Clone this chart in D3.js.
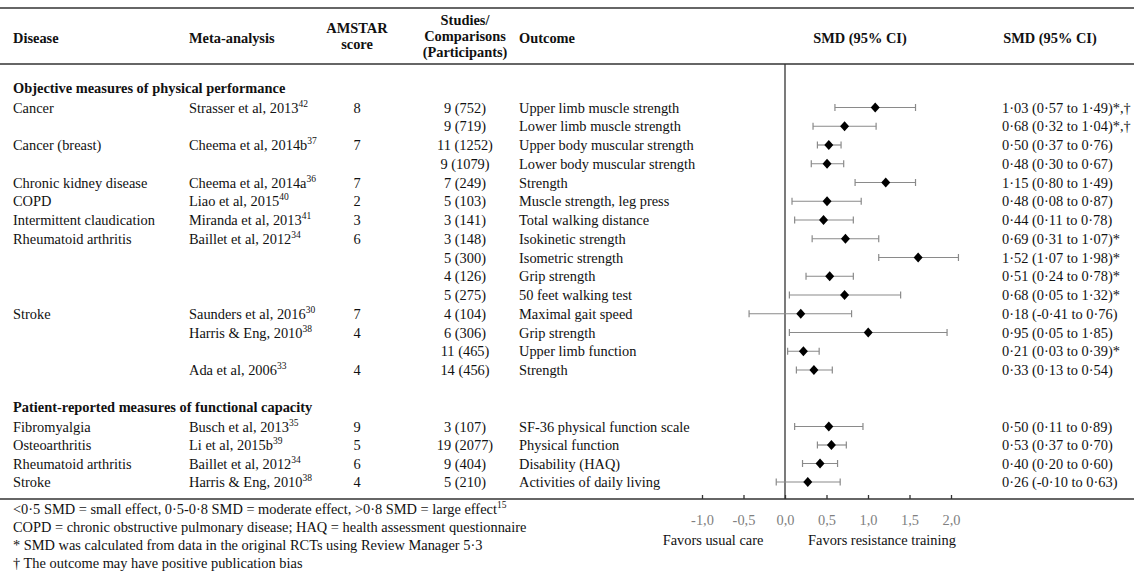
<!DOCTYPE html>
<html><head><meta charset="utf-8">
<script src="https://cdn.jsdelivr.net/npm/d3@7"></script>
<style>
html,body{margin:0;padding:0;background:#fff;}
svg{display:block;font-family:"Liberation Serif","Times New Roman",serif;}
</style></head>
<body><svg id="c" width="1134" height="572"></svg>
<script>
// ---------- Data ----------
const section1Title = "Objective measures of physical performance";
const section2Title = "Patient-reported measures of functional capacity";

const disease1 = ["Cancer","","Cancer (breast)","","Chronic kidney disease","COPD","Intermittent claudication","Rheumatoid arthritis","","","","Stroke","","",""];
const meta1 = ["Strasser et al, 2013","","Cheema et al, 2014b","","Cheema et al, 2014a","Liao et al, 2015","Miranda et al, 2013","Baillet et al, 2012","","","","Saunders et al, 2016","Harris & Eng, 2010","","Ada et al, 2006"];
const ref1 = ["42","","37","","36","40","41","34","","","","30","38","","33"];
const amstar1 = ["8","","7","","7","2","3","6","","","","7","4","","4"];
const studies1 = ["9 (752)","9 (719)","11 (1252)","9 (1079)","7 (249)","5 (103)","3 (141)","3 (148)","5 (300)","4 (126)","5 (275)","4 (104)","6 (306)","11 (465)","14 (456)"];
const outcome1 = ["Upper limb muscle strength","Lower limb muscle strength","Upper body muscular strength","Lower body muscular strength","Strength","Muscle strength, leg press","Total walking distance","Isokinetic strength","Isometric strength","Grip strength","50 feet walking test","Maximal gait speed","Grip strength","Upper limb function","Strength"];
const smdLabel1 = ["1·03 (0·57 to 1·49)*,†","0·68 (0·32 to 1·04)*,†","0·50 (0·37 to 0·76)","0·48 (0·30 to 0·67)","1·15 (0·80 to 1·49)","0·48 (0·08 to 0·87)","0·44 (0·11 to 0·78)","0·69 (0·31 to 1·07)*","1·52 (1·07 to 1·98)*","0·51 (0·24 to 0·78)*","0·68 (0·05 to 1·32)*","0·18 (-0·41 to 0·76)","0·95 (0·05 to 1·85)","0·21 (0·03 to 0·39)*","0·33 (0·13 to 0·54)"];
const smd1 = [1.03,0.68,0.50,0.48,1.15,0.48,0.44,0.69,1.52,0.51,0.68,0.18,0.95,0.21,0.33];
const lo1  = [0.57,0.32,0.37,0.30,0.80,0.08,0.11,0.31,1.07,0.24,0.05,-0.41,0.05,0.03,0.13];
const hi1  = [1.49,1.04,0.64,0.67,1.49,0.87,0.78,1.07,1.98,0.78,1.32,0.76,1.85,0.39,0.54];

const disease2 = ["Fibromyalgia","Osteoarthritis","Rheumatoid arthritis","Stroke"];
const meta2 = ["Busch et al, 2013","Li et al, 2015b","Baillet et al, 2012","Harris & Eng, 2010"];
const ref2 = ["35","39","34","38"];
const amstar2 = ["9","5","6","4"];
const studies2 = ["3 (107)","19 (2077)","9 (404)","5 (210)"];
const outcome2 = ["SF-36 physical function scale","Physical function","Disability (HAQ)","Activities of daily living"];
const smdLabel2 = ["0·50 (0·11 to 0·89)","0·53 (0·37 to 0·70)","0·40 (0·20 to 0·60)","0·26 (-0·10 to 0·63)"];
const smd2 = [0.50,0.53,0.40,0.26];
const lo2  = [0.11,0.37,0.20,-0.10];
const hi2  = [0.89,0.70,0.60,0.63];

const axisTicks = [-1,-0.5,0,0.5,1,1.5,2];
const favorLeft = "Favors usual care";
const favorRight = "Favors resistance training";

const footnotes = [
  {t:"<0·5 SMD = small effect, 0·5-0·8 SMD = moderate effect, >0·8 SMD = large effect", sup:"15"},
  {t:"COPD = chronic obstructive pulmonary disease; HAQ = health assessment questionnaire", sup:""},
  {t:"* SMD was calculated from data in the original RCTs using Review Manager 5·3", sup:""},
  {t:"† The outcome may have positive publication bias", sup:""}
];

// ---------- Layout ----------
const W = 1134, H = 572;
const svg = d3.select("#c");
const FS = 14.4;
const col = {disease:13, meta:189, amstar:357, studies:465, outcome:519, smd:1002};
const rule = {top:8, head:64, bottom:499};

const xMark = d3.scaleLinear().domain([-1,2]).range([697.4,960.2]);
const xAxis = d3.scaleLinear().domain([-1,2]).range([702,951]);
const y1 = d3.scaleLinear().domain([0,14]).range([107.5,370]);
const y2 = d3.scaleLinear().domain([0,3]).range([426.5,482]);

// rules
[rule.top, rule.head, rule.bottom].forEach(y=>{
  svg.append("line").attr("x1",0).attr("x2",W).attr("y1",y).attr("y2",y)
    .attr("stroke","#333").attr("stroke-width",1.6);
});
// zero line
svg.append("line").attr("x1",xMark(0)).attr("x2",xMark(0)).attr("y1",rule.head).attr("y2",rule.bottom)
  .attr("stroke","#333").attr("stroke-width",1.3);

// header
const hdr = svg.append("g").attr("font-weight","bold").attr("font-size",FS).attr("fill","#111");
function htext(x,y,t,anchor){hdr.append("text").attr("x",x).attr("y",y).attr("text-anchor",anchor||"start").text(t);}
htext(col.disease,43,"Disease");
htext(col.meta,43,"Meta-analysis");
htext(col.amstar,33,"AMSTAR","middle");
htext(col.amstar,49,"score","middle");
htext(col.studies,25,"Studies/","middle");
htext(col.studies,41,"Comparisons","middle");
htext(col.studies,57,"(Participants)","middle");
htext(col.outcome,43,"Outcome");
htext(860,43,"SMD (95% CI)","middle");
htext(1050,43,"SMD (95% CI)","middle");

// section titles
svg.append("text").attr("x",col.disease).attr("y",93).attr("font-weight","bold").attr("font-size",FS).attr("fill","#111").text(section1Title);
svg.append("text").attr("x",col.disease).attr("y",412).attr("font-weight","bold").attr("font-size",FS).attr("fill","#111").text(section2Title);

function drawSection(yS, disease, meta, ref, amstar, studies, outcome, label, smd, lo, hi){
  const g = svg.append("g").attr("font-size",FS).attr("fill","#111");
  const rows = d3.range(disease.length);
  const base = i => yS(i)+5;
  g.selectAll(null).data(rows).join("text").attr("x",col.disease).attr("y",base).text(i=>disease[i]);
  const mt = g.selectAll(null).data(rows).join("text").attr("x",col.meta).attr("y",base);
  mt.append("tspan").text(i=>meta[i]);
  mt.append("tspan").attr("font-size",9.5).attr("dy",-6).text(i=>ref[i]);
  g.selectAll(null).data(rows).join("text").attr("x",col.amstar).attr("y",base).attr("text-anchor","middle").text(i=>amstar[i]);
  g.selectAll(null).data(rows).join("text").attr("x",col.studies).attr("y",base).attr("text-anchor","middle").text(i=>studies[i]);
  g.selectAll(null).data(rows).join("text").attr("x",col.outcome).attr("y",base).text(i=>outcome[i]);
  g.selectAll(null).data(rows).join("text").attr("x",col.smd).attr("y",base).text(i=>label[i]);
  // CI whiskers
  const m = svg.append("g");
  m.selectAll(null).data(rows).join("line")
    .attr("x1",i=>xMark(lo[i])).attr("x2",i=>xMark(hi[i])).attr("y1",i=>yS(i)).attr("y2",i=>yS(i))
    .attr("stroke","#8a8a8a").attr("stroke-width",1.2);
  m.selectAll(null).data(rows.flatMap(i=>[[i,lo[i]],[i,hi[i]]])).join("line")
    .attr("x1",d=>xMark(d[1])).attr("x2",d=>xMark(d[1])).attr("y1",d=>yS(d[0])-3.5).attr("y2",d=>yS(d[0])+3.5)
    .attr("stroke","#8a8a8a").attr("stroke-width",1.2);
  m.selectAll(null).data(rows).join("path")
    .attr("transform",i=>`translate(${xMark(smd[i])},${yS(i)})`)
    .attr("d","M0,-5L4.5,0L0,5L-4.5,0Z").attr("fill","#000");
}
drawSection(y1, disease1, meta1, ref1, amstar1, studies1, outcome1, smdLabel1, smd1, lo1, hi1);
drawSection(y2, disease2, meta2, ref2, amstar2, studies2, outcome2, smdLabel2, smd2, lo2, hi2);

// axis
const ax = svg.append("g").attr("transform",`translate(0,${rule.bottom})`)
  .call(d3.axisBottom(xAxis).tickValues(axisTicks).tickSizeInner(-4).tickSizeOuter(0).tickPadding(16)
    .tickFormat(v=>v.toFixed(1).replace(".",",").replace("−","-")));
ax.select(".domain").remove();
ax.selectAll(".tick line").attr("stroke","#333").attr("stroke-width",1.3);
ax.selectAll(".tick text").attr("font-family","Liberation Serif, serif").attr("font-size",FS).attr("fill","#808080");

svg.append("text").attr("x",713).attr("y",545).attr("text-anchor","middle").attr("font-size",FS).attr("fill","#111").text(favorLeft);
svg.append("text").attr("x",882).attr("y",545).attr("text-anchor","middle").attr("font-size",FS).attr("fill","#111").text(favorRight);

// footnotes
const fy = [514,532,550,568];
footnotes.forEach((f,i)=>{
  const t = svg.append("text").attr("x",col.disease).attr("y",fy[i]).attr("font-size",FS).attr("fill","#111");
  t.append("tspan").text(f.t);
  if(f.sup) t.append("tspan").attr("font-size",9.5).attr("dy",-6).text(f.sup);
});
</script></body></html>
